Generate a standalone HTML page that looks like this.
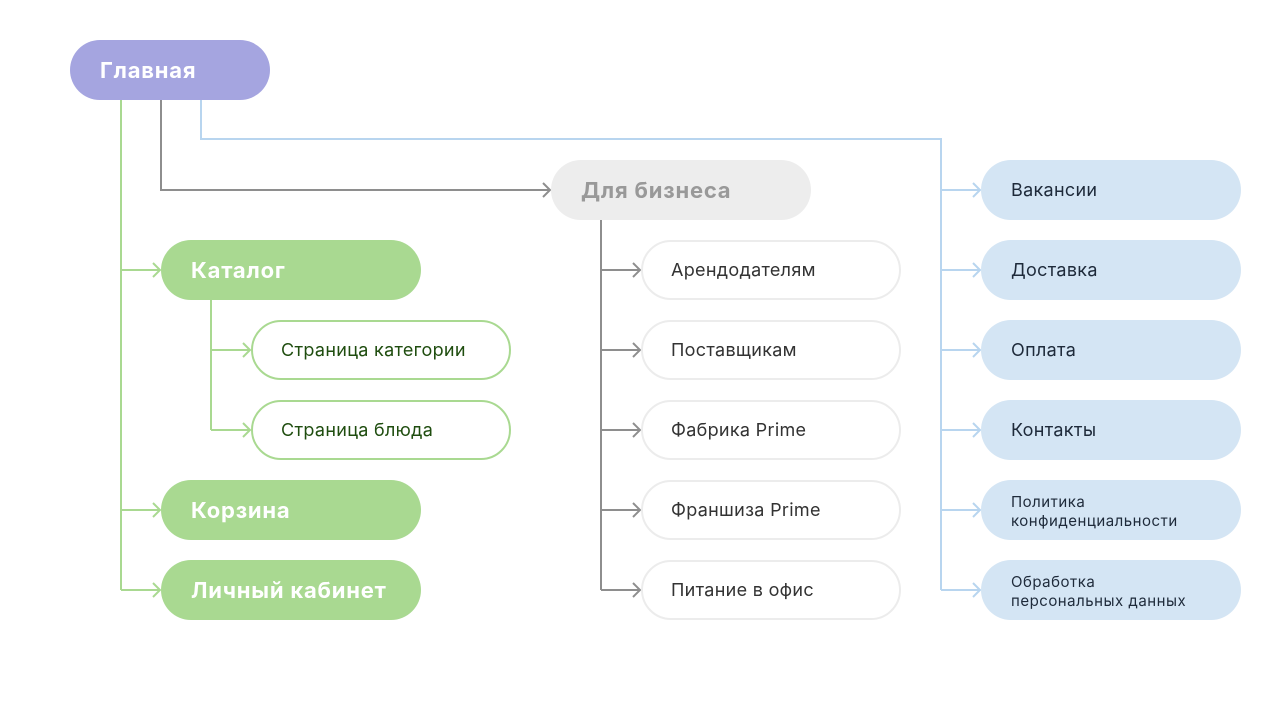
<!DOCTYPE html>
<html><head><meta charset="utf-8"><style>
body{margin:0;width:1280px;height:720px;background:#fff;position:relative;overflow:hidden;font-family:"Inter","Liberation Sans",sans-serif}
.n{position:absolute;height:60px;border-radius:30px;box-sizing:border-box;display:flex;align-items:center;padding-left:30px;padding-top:1px}
.b{font-weight:bold;font-size:22px;color:#fff;letter-spacing:0.8px}
.w{width:260px;border:2px solid #ececec;background:#fff;color:#333;font-size:18px;padding-left:28px;left:641px;letter-spacing:0.3px}
.g{width:260px;border:2px solid #a9d991;background:#fff;color:#1f4d0f;font-size:18px;padding-left:28px;left:251px;letter-spacing:0.3px}
.bl{width:260px;left:981px;background:#d4e5f4;color:#1e2a3a;font-size:18px;letter-spacing:0.3px}
.sm{font-size:15px;line-height:19px;letter-spacing:0.5px}
svg{position:absolute;left:0;top:0}
</style></head><body>
<svg width="1280" height="720" fill="none" stroke-width="2">
<g stroke="#a9d991">
<path d="M121 100V590M121 270H160M121 510H160M121 590H160M211 300V430M211 350H250M211 430H250"/>
<path d="M153 263L160 270L153 277M153 503L160 510L153 517M153 583L160 590L153 597M243 343L250 350L243 357M243 423L250 430L243 437"/>
</g>
<g stroke="#8e8e8e">
<path d="M161 100V190H550M601 220V590M601 270H640M601 350H640M601 430H640M601 510H640M601 590H640"/>
<path d="M543 183L550 190L543 197M633 263L640 270L633 277M633 343L640 350L633 357M633 423L640 430L633 437M633 503L640 510L633 517M633 583L640 590L633 597"/>
</g>
<g stroke="#b8d5ef">
<path d="M201 100V139H941V590M941 190H980M941 270H980M941 350H980M941 430H980M941 510H980M941 590H980"/>
<path d="M973 183L980 190L973 197M973 263L980 270L973 277M973 343L980 350L973 357M973 423L980 430L973 437M973 503L980 510L973 517M973 583L980 590L973 597"/>
</g>
</svg>
<div class="n b" style="left:70px;top:40px;width:200px;background:#a5a5e0">Главная</div>
<div class="n b" style="left:551px;top:160px;width:260px;background:#ededed;color:#999">Для бизнеса</div>
<div class="n b" style="left:161px;top:240px;width:260px;background:#a9d991">Каталог</div>
<div class="n b" style="left:161px;top:480px;width:260px;background:#a9d991">Корзина</div>
<div class="n b" style="left:161px;top:560px;width:260px;background:#a9d991">Личный кабинет</div>
<div class="n g" style="top:320px">Страница категории</div>
<div class="n g" style="top:400px">Страница блюда</div>
<div class="n w" style="top:240px">Арендодателям</div>
<div class="n w" style="top:320px">Поставщикам</div>
<div class="n w" style="top:400px">Фабрика Prime</div>
<div class="n w" style="top:480px">Франшиза Prime</div>
<div class="n w" style="top:560px">Питание в офис</div>
<div class="n bl" style="top:160px">Вакансии</div>
<div class="n bl" style="top:240px">Доставка</div>
<div class="n bl" style="top:320px">Оплата</div>
<div class="n bl" style="top:400px">Контакты</div>
<div class="n bl sm" style="top:480px">Политика<br>конфиденциальности</div>
<div class="n bl sm" style="top:560px">Обработка<br>персональных данных</div>
</body></html>
